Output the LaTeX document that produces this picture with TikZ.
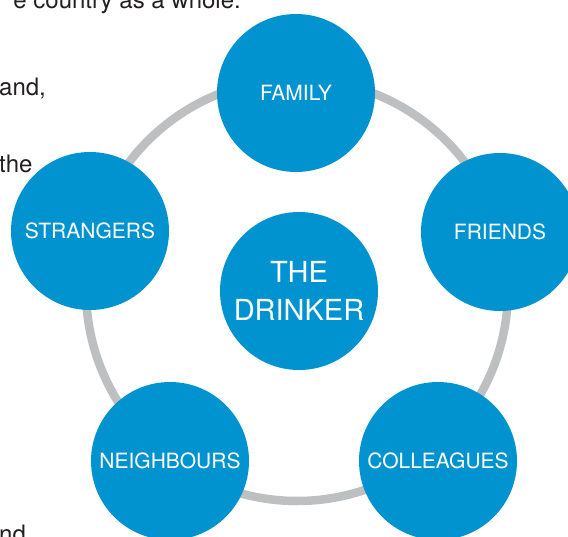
\documentclass[tikz,border=0pt]{standalone}
\usepackage{fontspec}
\setmainfont{TeX Gyre Heros}
\usepackage{xcolor}
\definecolor{circleblue}{RGB}{0,147,208}
\definecolor{ringgrey}{RGB}{190,191,193}
\definecolor{bodytext}{RGB}{35,31,32}

\begin{document}
\begin{tikzpicture}[x=1pt,y=-1pt,
    person/.style = {circle,fill=circleblue,minimum size=158pt,inner sep=0pt,text=white,font=\fontsize{21}{25}\selectfont},
    ring/.style = {draw=ringgrey,line width=8.5pt},
    body/.style = {text=bodytext,font=\fontsize{24}{28}\selectfont,inner sep=0pt}]
    \clip (0,0) rectangle (568,536);

    % running text of the page around the figure
    \node[body,anchor=base east](lineA) at (241,8) {e country as a whole.};
    \node[body,anchor=base west](lineB) at (-1,95) {and,};
    \node[body,anchor=base west](lineC) at (-1,172) {the};
    \node[body,anchor=base west](lineD) at (-1,542) {nd};

    \coordinate (hub) at (297,290);
    \draw[ring] (hub) circle[radius=211pt];

    \node[person](family) at (296,93) {FAMILY};
    \node[person](friends) at (500,232) {FRIENDS};
    \node[person](colleagues) at (438,461) {COLLEAGUES};
    \node[person](neighbours) at (170,461) {NEIGHBOURS};
    \node[person](strangers) at (90,231) {STRANGERS};
    \node[person,align = center,font=\fontsize{29}{38}\selectfont](drinker) at (299,291) {THE\\DRINKER};
\end{tikzpicture}
\end{document}
